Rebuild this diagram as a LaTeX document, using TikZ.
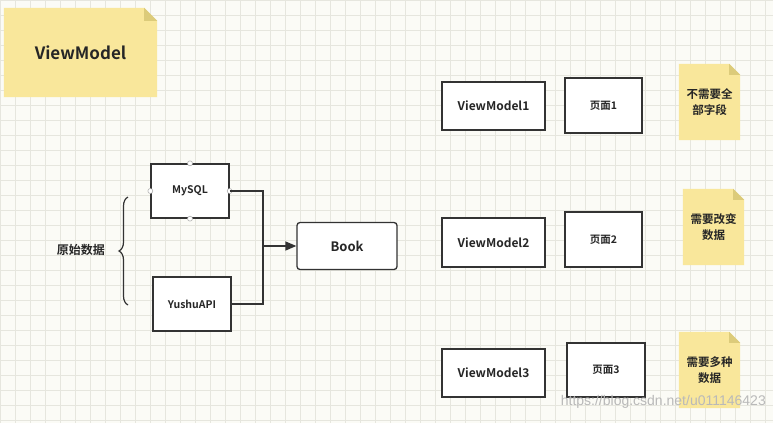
\documentclass[tikz,border=0pt]{standalone}
\usepackage{fontspec}
\setmainfont{Noto Sans CJK SC}[BoldFont={Noto Sans CJK SC Bold}]
\newfontfamily\wmfont{Liberation Sans}
\usetikzlibrary{arrows.meta,decorations.pathreplacing}
\pgfdeclarelayer{gridlayer}
\pgfdeclarelayer{notelayer}
\pgfsetlayers{gridlayer,notelayer,main}
\definecolor{bgc}{HTML}{FBFBF6}
\definecolor{gridc}{HTML}{E6E6DE}
\definecolor{notec}{HTML}{F9E79B}
\definecolor{foldc}{HTML}{DCCB7A}
\definecolor{linec}{HTML}{333333}
\tikzset{
  box/.style={draw=linec, line width=1.3pt, fill=white, text=black!85, inner sep=0pt},
  notetext/.style={align=center, font=\bfseries, text=black!85, inner sep=0pt},
  conn/.style={draw=linec, line width=1.5pt},
  handle/.style={circle, draw=gray!70, fill=white, line width=0.5pt, minimum size=5pt, inner sep=0pt},
}
\newcommand{\notebg}[2]{% node name, fold size
  \begin{pgfonlayer}{notelayer}
    \fill[notec] (#1.south west) -- (#1.north west) -- ([xshift=-#2]#1.north east)
      -- ([yshift=-#2]#1.north east) -- (#1.south east) -- cycle;
    \fill[foldc] ([xshift=-#2]#1.north east) -- ([yshift=-#2]#1.north east)
      -- ([xshift=-#2,yshift=-#2]#1.north east) -- cycle;
  \end{pgfonlayer}}
\begin{document}
\begin{tikzpicture}[x=1pt,y=-1pt]
\useasboundingbox (0,0) rectangle (773,423);
\begin{pgfonlayer}{gridlayer}
  \fill[bgc] (0,0) rectangle (773,423);
  \draw[gridc, line width=0.5pt, step=15pt] (0,0) grid (773,423);
\end{pgfonlayer}

% title note
\node[notetext, minimum width=153pt, minimum height=89pt, font=\bfseries\fontsize{17}{20}\selectfont] (title) at (80.5,52.5) {ViewModel};
\notebg{title}{13pt}

% left part
\node[box, minimum width=78pt, minimum height=54pt, font=\bfseries\fontsize{10.5}{12}\selectfont] (mysql) at (190,191) {MySQL};
\node[box, minimum width=78pt, minimum height=54pt, font=\bfseries\fontsize{10.5}{12}\selectfont] (yushu) at (192,304) {YushuAPI};
\node[box, rounded corners=3pt, minimum width=100pt, minimum height=47pt, font=\bfseries\fontsize{13}{15}\selectfont] (book) at (347,246) {Book};

\foreach \a in {north,south,east,west} \node[handle] (h\a) at (mysql.\a) {};

\coordinate (j) at (263,246);
\draw[conn] (mysql.east) -| (j);
\draw[conn] (yushu.east) -| (j);
\draw[conn, -{Triangle[length=11pt,width=9pt]}] (j) -- (book.west);

\coordinate (bb) at (128,305);
\coordinate (bt) at (128,197);
\draw[linec, line width=1.2pt, decorate, decoration={brace, amplitude=9pt}] (bb) -- (bt);
\node[font=\bfseries\fontsize{12}{14}\selectfont, text=black!85, anchor=east, inner sep=0pt] (raw) at (105,250) {原始数据};

% right part
\node[box, minimum width=103pt, minimum height=48pt, font=\bfseries\fontsize{12}{14}\selectfont] (vm1) at (493.5,106) {ViewModel1};
\node[box, minimum width=77pt, minimum height=55pt, font=\bfseries\fontsize{10.5}{12}\selectfont] (p1) at (603.5,105.5) {页面1};
\node[notetext, minimum width=61pt, minimum height=76pt] (n1) at (709.5,102) {};
\node[notetext, font=\bfseries\fontsize{11.5}{16}\selectfont] (t1) at (n1) {不需要全\\部字段};
\notebg{n1}{11pt}

\node[box, minimum width=103pt, minimum height=49pt, font=\bfseries\fontsize{12}{14}\selectfont] (vm2) at (493.5,242.5) {ViewModel2};
\node[box, minimum width=77pt, minimum height=55pt, font=\bfseries\fontsize{10.5}{12}\selectfont] (p2) at (603.5,239.5) {页面2};
\node[notetext, minimum width=61pt, minimum height=76pt] (n2) at (713.5,227) {};
\node[notetext, font=\bfseries\fontsize{11.5}{16}\selectfont] (t2) at (n2) {需要改变\\数据};
\notebg{n2}{11pt}

\node[box, minimum width=103pt, minimum height=48pt, font=\bfseries\fontsize{12}{14}\selectfont] (vm3) at (493.5,373) {ViewModel3};
\node[box, minimum width=78pt, minimum height=54pt, font=\bfseries\fontsize{10.5}{12}\selectfont] (p3) at (606,370) {页面3};
\node[notetext, minimum width=61pt, minimum height=76pt] (n3) at (709.5,370) {};
\node[notetext, font=\bfseries\fontsize{11.5}{16}\selectfont] (t3) at (n3) {需要多种\\数据};
\notebg{n3}{11pt}

% watermark
\node[font=\wmfont\fontsize{14}{16}\selectfont, text=gray!55, anchor=east, inner sep=0pt] (wm) at (766,402) {https://blog.csdn.net/u011146423};
\end{tikzpicture}
\end{document}
